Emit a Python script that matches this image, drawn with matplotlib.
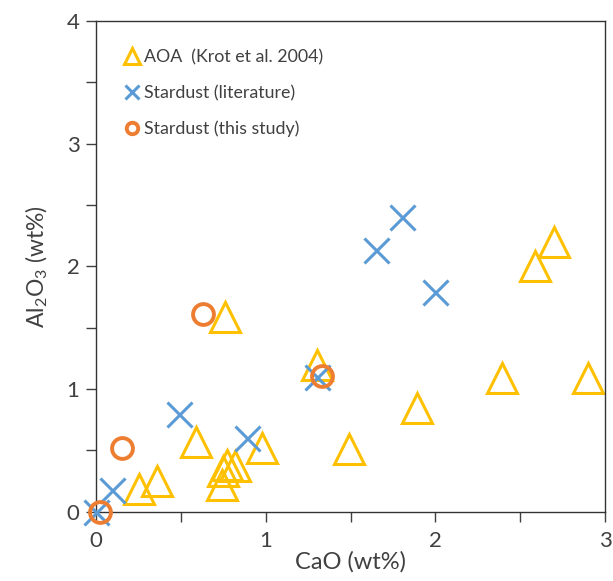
import matplotlib.pyplot as plt
from matplotlib.ticker import MultipleLocator

plt.rcParams['font.family'] = ['Lato', 'DejaVu Sans']
plt.rcParams['mathtext.fontset'] = 'custom'
plt.rcParams['mathtext.rm'] = 'Lato'

# AOA (Krot et al. 2004)
aoa_cao = [2.70, 2.59, 2.39, 2.90, 1.89, 1.49, 0.76, 1.30, 0.59, 0.98,
           0.25, 0.36, 0.74, 0.75, 0.77, 0.82]
aoa_al2o3 = [2.20, 2.00, 1.09, 1.09, 0.85, 0.51, 1.59, 1.20, 0.57, 0.52,
             0.19, 0.25, 0.22, 0.33, 0.38, 0.37]

# Stardust (literature)
lit_cao = [0.00, 0.09, 0.49, 0.89, 1.30, 1.65, 1.80, 2.00]
lit_al2o3 = [0.00, 0.18, 0.80, 0.60, 1.10, 2.13, 2.40, 1.79]

# Stardust (this study)
this_cao = [0.02, 0.15, 0.63, 1.33]
this_al2o3 = [0.00, 0.52, 1.61, 1.11]

text_col = '#404040'

fig = plt.figure(figsize=(6.13, 5.81), dpi=100)
ax = fig.add_axes([0.157, 0.119, 0.830, 0.845])

ax.plot(aoa_cao, aoa_al2o3, '^', ms=21, mfc='none', mec='#FFC000', mew=2.2,
        label='AOA  (Krot et al. 2004)', zorder=2, clip_on=False)
ax.plot(lit_cao, lit_al2o3, 'x', ms=18, mec='#5B9BD5', mew=2.2,
        label='Stardust (literature)', zorder=3, clip_on=False)
ax.plot(this_cao, this_al2o3, 'o', ms=15, mfc='none', mec='#ED7D31', mew=2.8,
        label='Stardust (this study)', zorder=4, clip_on=False)

ax.set_xlim(0, 3)
ax.set_ylim(0, 4)
ax.xaxis.set_major_locator(MultipleLocator(1))
ax.xaxis.set_minor_locator(MultipleLocator(0.5))
ax.yaxis.set_major_locator(MultipleLocator(1))
ax.yaxis.set_minor_locator(MultipleLocator(0.5))
ax.tick_params(which='both', direction='out', length=7, width=1, color='#404040',
               labelsize=16, labelcolor=text_col)
ax.tick_params(axis='x', pad=7)
ax.tick_params(axis='y', pad=5)

for s in ax.spines.values():
    s.set_color('#333333')
    s.set_linewidth(1)

ax.set_xlabel('CaO (wt%)', fontsize=17, color=text_col, labelpad=0)
ax.set_ylabel(r'Al$_{\mathregular{2}}$O$_{\mathregular{3}}$ (wt%)', fontsize=16.5,
              color=text_col, labelpad=12)

leg = ax.legend(loc='upper left', bbox_to_anchor=(0.02, 0.975), frameon=False,
                markerscale=0.55, handletextpad=0.1, handlelength=1.1,
                labelspacing=1.1, fontsize=12.8)
for t in leg.get_texts():
    t.set_color(text_col)

fig.savefig('out.png', dpi=100)
